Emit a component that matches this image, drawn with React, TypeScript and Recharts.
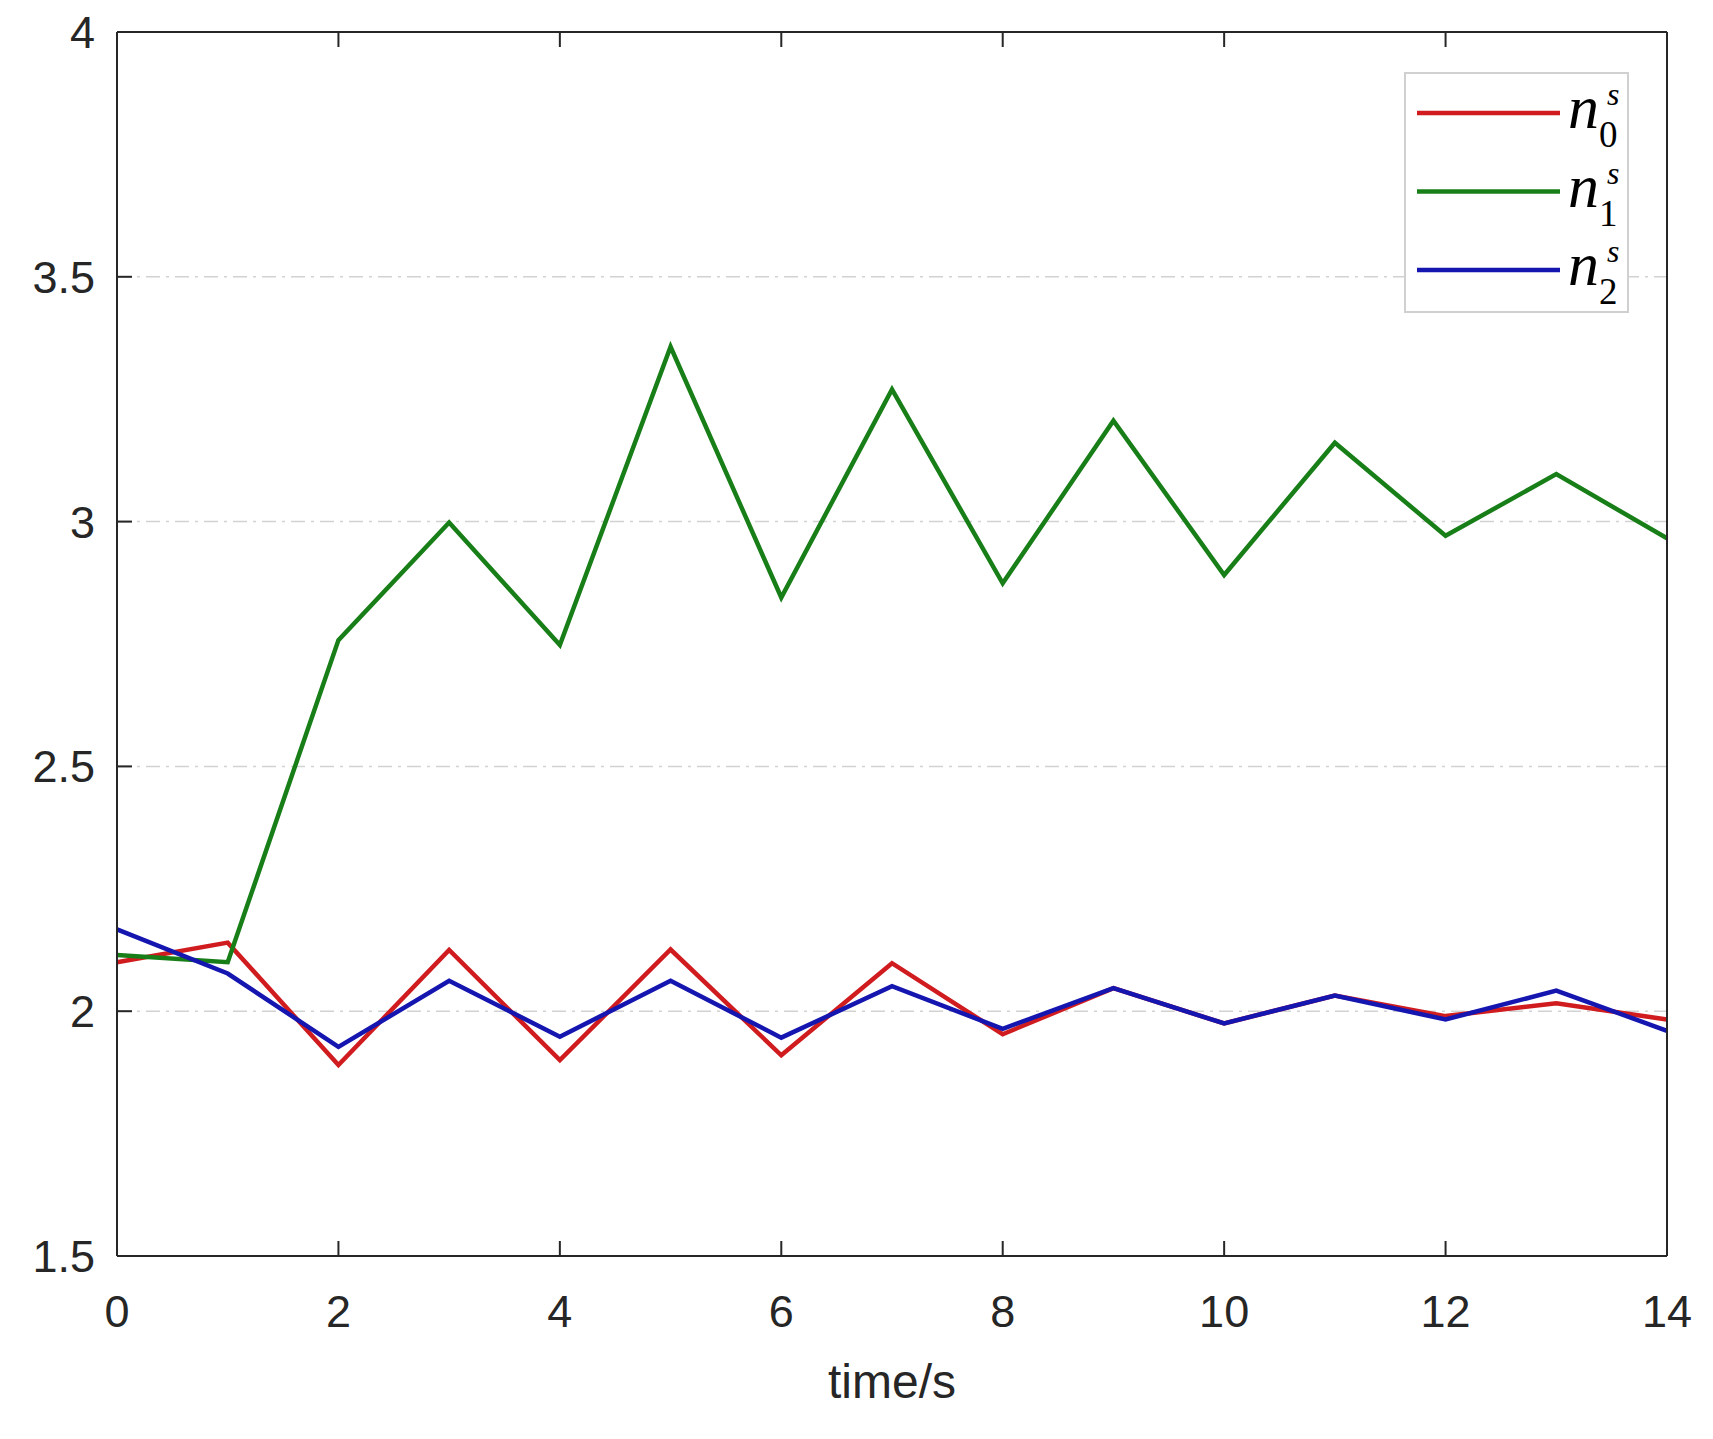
import React from 'react';
import { LineChart, Line, XAxis, YAxis, CartesianGrid, Legend, Label } from 'recharts';

const timeSteps = [0, 1, 2, 3, 4, 5, 6, 7, 8, 9, 10, 11, 12, 13, 14];
const n0Values = [2.10, 2.14, 1.89, 2.125, 1.90, 2.126, 1.91, 2.098, 1.953, 2.047, 1.975, 2.032, 1.99, 2.016, 1.983];
const n1Values = [2.115, 2.10, 2.758, 2.998, 2.748, 3.357, 2.845, 3.27, 2.874, 3.206, 2.891, 3.161, 2.971, 3.097, 2.966];
const n2Values = [2.167, 2.077, 1.927, 2.062, 1.948, 2.062, 1.946, 2.051, 1.964, 2.047, 1.975, 2.032, 1.983, 2.042, 1.96];

const xTicks = [0, 2, 4, 6, 8, 10, 12, 14];
const yTicks = [1.5, 2, 2.5, 3, 3.5, 4];

const seriesKeys = ['n0', 'n1', 'n2'];
const seriesSubscripts = ['0', '1', '2'];
const seriesColors = ['#d01c1f', '#187f18', '#1515b0'];

const data = timeSteps.map((t, i) => ({ t, n0: n0Values[i], n1: n1Values[i], n2: n2Values[i] }));

const axisColor = '#262626';
const tickFont = { fontSize: 45, fill: axisColor, fontFamily: '"Liberation Sans", Arial, sans-serif' };
const emptyTick = () => <g />;

const LegendBox = () => (
  <svg width={225} height={241} style={{ display: 'block' }}>
    <rect x={1} y={1} width={223} height={239} fill="#ffffff" stroke="#d0d0d0" strokeWidth={2} />
    {seriesKeys.map((k, i) => {
      const ly = 41 + i * 78.5;
      return (
        <g key={k}>
          <line x1={13} x2={156} y1={ly} y2={ly} stroke={seriesColors[i]} strokeWidth={4.5} />
          <text fontFamily='"Liberation Serif", "Times New Roman", serif' fill="#000">
            <tspan x={164} y={ly + 15} fontSize={62} fontStyle="italic">n</tspan>
            <tspan x={195} y={ly + 34} fontSize={37}>{seriesSubscripts[i]}</tspan>
            <tspan x={203} y={ly - 8} fontSize={32} fontStyle="italic">s</tspan>
          </text>
        </g>
      );
    })}
  </svg>
);

export default function App() {
  return (
    <div style={{ position: 'absolute', left: 0, top: 0, width: 1713, height: 1439, background: '#ffffff' }}>
      <LineChart width={1713} height={1439} data={data} margin={{ top: 31, right: 45, left: 0, bottom: 0 }}>
        <CartesianGrid vertical={false} stroke="#d2d2d2" strokeWidth={1.5} strokeDasharray="14 6 3 6" />
        <XAxis
          dataKey="t"
          type="number"
          domain={[0, 14]}
          ticks={xTicks}
          interval={0}
          height={183}
          axisLine={{ stroke: axisColor, strokeWidth: 2 }}
          tickLine={{ stroke: axisColor, strokeWidth: 2 }}
          tickSize={-15}
          tickMargin={54}
          tick={tickFont}
        >
          <Label
            value="time/s"
            position="insideBottom"
            offset={41}
            style={{ fontSize: 48, fill: axisColor, fontFamily: '"Liberation Sans", Arial, sans-serif' }}
          />
        </XAxis>
        <XAxis
          xAxisId="top"
          orientation="top"
          type="number"
          domain={[0, 14]}
          ticks={xTicks}
          interval={0}
          height={1}
          axisLine={{ stroke: axisColor, strokeWidth: 2 }}
          tickLine={{ stroke: axisColor, strokeWidth: 2 }}
          tickSize={-15}
          tick={emptyTick}
        />
        <YAxis
          type="number"
          domain={[1.5, 4]}
          ticks={yTicks}
          interval={0}
          width={117}
          axisLine={{ stroke: axisColor, strokeWidth: 2 }}
          tickLine={{ stroke: axisColor, strokeWidth: 2 }}
          tickSize={-15}
          tickMargin={37}
          tick={tickFont}
        />
        <YAxis
          yAxisId="right"
          orientation="right"
          type="number"
          domain={[1.5, 4]}
          ticks={yTicks}
          interval={0}
          width={1}
          axisLine={{ stroke: axisColor, strokeWidth: 2 }}
          tickLine={{ stroke: axisColor, strokeWidth: 2 }}
          tickSize={-15}
          tick={emptyTick}
        />
        <Legend
          layout="horizontal"
          verticalAlign="middle"
          align="center"
          content={() => <LegendBox />}
          wrapperStyle={{ position: 'absolute', left: 1404, top: 72, width: 225, height: 241 }}
        />
        {seriesKeys.map((k, i) => (
          <Line
            key={k}
            dataKey={k}
            type="linear"
            stroke={seriesColors[i]}
            strokeWidth={4.5}
            dot={false}
            activeDot={false}
            isAnimationActive={false}
          />
        ))}
      </LineChart>
    </div>
  );
}
